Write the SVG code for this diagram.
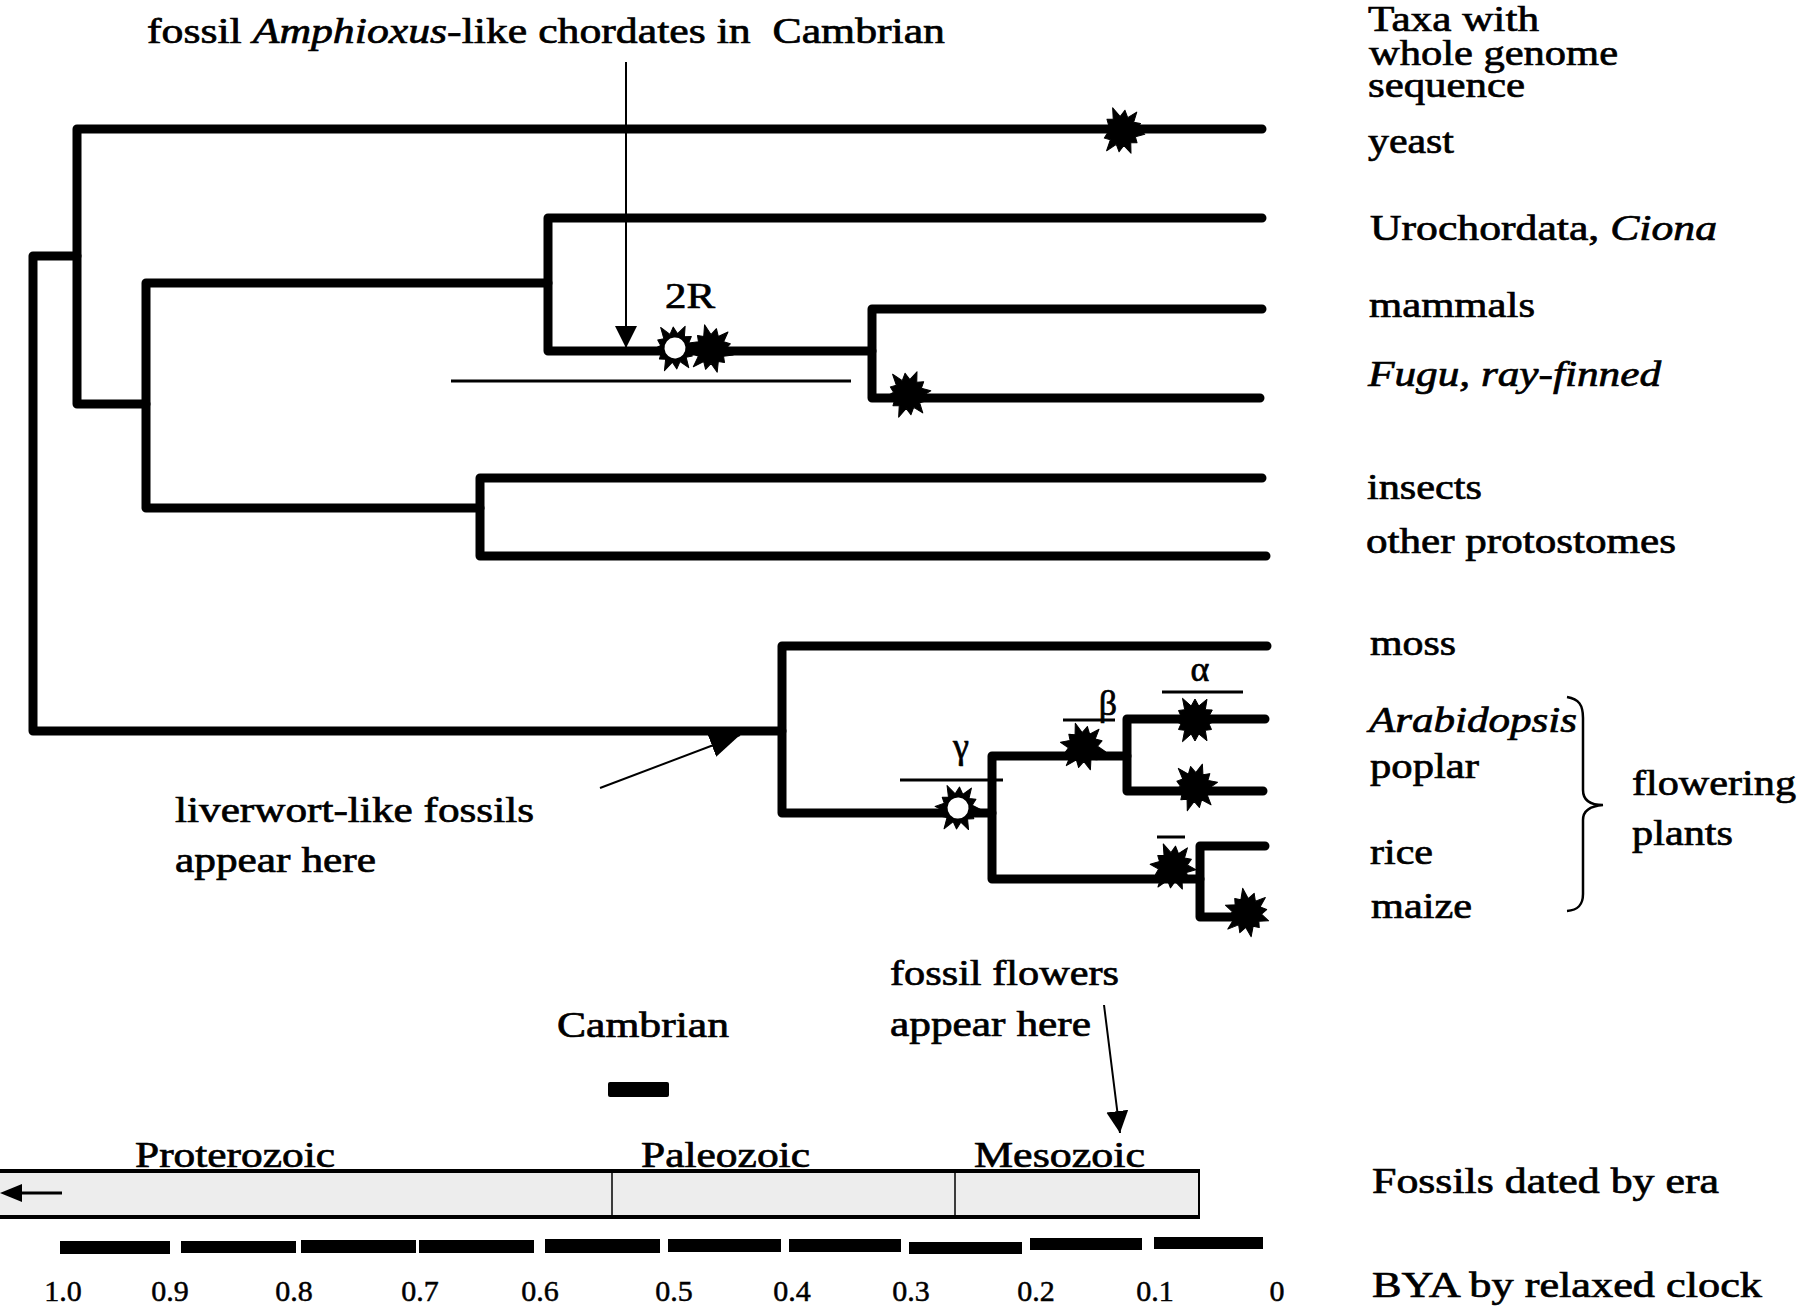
<svg xmlns="http://www.w3.org/2000/svg" xmlns:xlink="http://www.w3.org/1999/xlink" width="1800" height="1310" viewBox="0 0 1800 1310">
<style>
.br{fill:none;stroke:#000;stroke-width:9;stroke-linecap:round;stroke-linejoin:round}
.thin{fill:none;stroke:#000;stroke-width:2}
.bar{stroke:#000;stroke-width:3}
.t{font-family:"Liberation Serif","Times New Roman",serif;font-size:36px;fill:#000;stroke:#000;stroke-width:0.7px}
.it{font-style:italic}
.num{font-family:"Liberation Serif","Times New Roman",serif;font-size:30px;fill:#000;stroke:#000;stroke-width:0.5px;text-anchor:middle}
.dash{fill:#000}
</style>
<defs>
<polygon id="burst" points="23,0 14,3.8 16.5,9.5 10.3,10.3 12,20.8 3.8,14 0,21 -3.8,14 -12.5,21.7 -10.3,10.3 -16.5,9.5 -14,3.8 -23,0 -14,-3.8 -16.5,-9.5 -10.3,-10.3 -12.5,-21.7 -3.8,-14 0,-21 3.8,-14 12,-20.8 10.3,-10.3 17.3,-10 14,-3.8" fill="#000" stroke="#000" stroke-width="1" stroke-linejoin="round"/>
<g id="openburst"><use href="#burst"/><circle r="10.5" fill="#fff"/></g>
<marker id="ah" viewBox="0 0 22 22" refX="22" refY="11" markerWidth="22" markerHeight="22" markerUnits="userSpaceOnUse" orient="auto"><path d="M0,0 L22,11 L0,22 z" fill="#000"/></marker>
<marker id="ahl" viewBox="0 0 30 24" refX="30" refY="12" markerWidth="30" markerHeight="24" markerUnits="userSpaceOnUse" orient="auto"><path d="M0,0 L30,12 L0,24 z" fill="#000"/></marker>
</defs>
<rect width="1800" height="1310" fill="#fff"/>

<g id="connectors">
<path class="br" d="M77,256 H33 V731 H782"/>
<path class="br" d="M1262,129 H77 V404 H146"/>
<path class="br" d="M548,283 H146 V508 H480"/>
<path class="br" d="M1262,218 H548 V351 H872"/>
<path class="br" d="M1262,309 H872 V398 H1260"/>
<path class="br" d="M1262,478 H480 V556 H1266"/>
<path class="br" d="M1267,646 H782 V813 H992"/>
<path class="br" d="M1127,756 H992 V879 H1200"/>
<path class="br" d="M1265,719 H1127 V791 H1263"/>
<path class="br" d="M1265,846 H1200 V917 H1247"/>
</g>

<g id="duplication-events">
<use href="#burst" transform="translate(1122 131) rotate(8)"/>
<use href="#openburst" transform="translate(675 348) rotate(-5)"/>
<use href="#burst" transform="translate(711 349) rotate(15)"/>
<use href="#burst" transform="translate(908 394) rotate(-8)"/>
<use href="#openburst" transform="translate(958 808) rotate(4)"/>
<use href="#burst" transform="translate(1083 747) rotate(12)"/>
<use href="#burst" transform="translate(1195 720)"/>
<use href="#burst" transform="translate(1195 787) rotate(-12)"/>
<use href="#burst" transform="translate(1173 867) rotate(7)"/>
<use href="#burst" transform="translate(1247 913) rotate(20)"/>
</g>

<g id="wgd-ranges">
<line class="bar" x1="451" y1="381" x2="851" y2="381"/>
<line class="bar" x1="900" y1="780" x2="1003" y2="780"/>
<line class="bar" x1="1063" y1="720" x2="1115" y2="720"/>
<line class="bar" x1="1162" y1="692" x2="1243" y2="692"/>
<line class="bar" x1="1157" y1="837" x2="1185" y2="837"/>
<text class="t" x="665" y="308" font-size="40" textLength="50" lengthAdjust="spacingAndGlyphs">2R</text>
<text class="t" x="961" y="758" font-size="40" text-anchor="middle">γ</text>
<text class="t" x="1108" y="715" font-size="38" text-anchor="middle">β</text>
<text class="t" x="1200" y="681" font-size="40" text-anchor="middle">α</text>
</g>

<g id="annotation-amphioxus">
<text class="t" x="147" y="43" textLength="798" lengthAdjust="spacingAndGlyphs" xml:space="preserve">fossil <tspan class="it">Amphioxus</tspan>-like chordates in  Cambrian</text>
<line class="thin" x1="626" y1="62" x2="626" y2="348" marker-end="url(#ah)"/>
</g>

<g id="annotation-liverwort">
<line class="thin" x1="600" y1="788" x2="740" y2="735" marker-end="url(#ahl)"/>
<text class="t" x="175" y="822" textLength="359" lengthAdjust="spacingAndGlyphs">liverwort-like fossils</text>
<text class="t" x="175" y="872" textLength="201" lengthAdjust="spacingAndGlyphs">appear here</text>
</g>

<g id="header">
<text class="t" x="1368" y="31" font-size="35" textLength="171" lengthAdjust="spacingAndGlyphs">Taxa with</text>
<text class="t" x="1369" y="65" font-size="35" textLength="249" lengthAdjust="spacingAndGlyphs">whole genome</text>
<text class="t" x="1368" y="97" font-size="35" textLength="157" lengthAdjust="spacingAndGlyphs">sequence</text>
</g>
<g id="taxon-yeast"><text class="t" x="1368" y="153" textLength="86" lengthAdjust="spacingAndGlyphs">yeast</text></g>
<g id="taxon-ciona"><text class="t" x="1370" y="240" textLength="347" lengthAdjust="spacingAndGlyphs">Urochordata, <tspan class="it">Ciona</tspan></text></g>
<g id="taxon-mammals"><text class="t" x="1369" y="317" textLength="166" lengthAdjust="spacingAndGlyphs">mammals</text></g>
<g id="taxon-fugu"><text class="t it" x="1368" y="386" textLength="293" lengthAdjust="spacingAndGlyphs">Fugu, ray-finned</text></g>
<g id="taxon-insects"><text class="t" x="1367" y="499" textLength="115" lengthAdjust="spacingAndGlyphs">insects</text></g>
<g id="taxon-protostomes"><text class="t" x="1366" y="553" textLength="310" lengthAdjust="spacingAndGlyphs">other protostomes</text></g>
<g id="taxon-moss"><text class="t" x="1370" y="655" textLength="86" lengthAdjust="spacingAndGlyphs">moss</text></g>
<g id="taxon-arabidopsis"><text class="t it" x="1369" y="732" textLength="208" lengthAdjust="spacingAndGlyphs">Arabidopsis</text></g>
<g id="taxon-poplar"><text class="t" x="1370" y="778" textLength="109" lengthAdjust="spacingAndGlyphs">poplar</text></g>
<g id="taxon-rice"><text class="t" x="1370" y="864" textLength="63" lengthAdjust="spacingAndGlyphs">rice</text></g>
<g id="taxon-maize"><text class="t" x="1371" y="918" textLength="101" lengthAdjust="spacingAndGlyphs">maize</text></g>

<g id="flowering-plants">
<path d="M1567,697 C1579,699 1583,705 1583,718 L1583,790 C1583,800 1590,805 1603,805 C1590,806 1583,811 1583,820 L1583,894 C1583,905 1578,910 1567,911" fill="none" stroke="#000" stroke-width="2.5"/>
<text class="t" x="1632" y="795" textLength="164" lengthAdjust="spacingAndGlyphs">flowering</text>
<text class="t" x="1632" y="845" textLength="101" lengthAdjust="spacingAndGlyphs">plants</text>
</g>

<g id="cambrian">
<text class="t" x="557" y="1037" textLength="172" lengthAdjust="spacingAndGlyphs">Cambrian</text>
<rect x="608" y="1082" width="61" height="15" rx="2" fill="#000"/>
</g>

<g id="fossil-flowers">
<text class="t" x="890" y="985" textLength="229" lengthAdjust="spacingAndGlyphs">fossil flowers</text>
<text class="t" x="890" y="1036" textLength="201" lengthAdjust="spacingAndGlyphs">appear here</text>
<line class="thin" x1="1104" y1="1005" x2="1120" y2="1133" marker-end="url(#ah)"/>
</g>

<g id="era-bar">
<rect x="0" y="1171" width="1200" height="46" fill="#ededed"/>
<line x1="0" y1="1171" x2="1200" y2="1171" stroke="#000" stroke-width="4"/>
<line x1="0" y1="1217" x2="1200" y2="1217" stroke="#000" stroke-width="4"/>
<line x1="1199" y1="1171" x2="1199" y2="1217" stroke="#000" stroke-width="2"/>
<line x1="612" y1="1173" x2="612" y2="1215" stroke="#000" stroke-width="1.5"/>
<line x1="955" y1="1173" x2="955" y2="1215" stroke="#000" stroke-width="1.5"/>
<line x1="14" y1="1193" x2="62" y2="1193" stroke="#000" stroke-width="3"/>
<path d="M0,1193 L22,1184 L22,1202 z" fill="#000"/>
<text class="t" x="135" y="1167" textLength="200" lengthAdjust="spacingAndGlyphs">Proterozoic</text>
<text class="t" x="641" y="1167" textLength="169" lengthAdjust="spacingAndGlyphs">Paleozoic</text>
<text class="t" x="974" y="1167" textLength="171" lengthAdjust="spacingAndGlyphs">Mesozoic</text>
<text class="t" x="1372" y="1193" font-size="38" textLength="347" lengthAdjust="spacingAndGlyphs">Fossils dated by era</text>
</g>

<g id="clock-scale">
<rect class="dash" x="60" y="1241" width="110" height="13"/>
<rect class="dash" x="181" y="1241" width="115" height="12"/>
<rect class="dash" x="301" y="1240" width="115" height="13"/>
<rect class="dash" x="419" y="1240" width="115" height="13"/>
<rect class="dash" x="545" y="1239" width="115" height="14"/>
<rect class="dash" x="668" y="1239" width="113" height="13"/>
<rect class="dash" x="789" y="1239" width="112" height="13"/>
<rect class="dash" x="909" y="1242" width="113" height="12"/>
<rect class="dash" x="1030" y="1238" width="112" height="12"/>
<rect class="dash" x="1154" y="1237" width="109" height="12"/>
<text class="num" x="63" y="1301">1.0</text>
<text class="num" x="170" y="1301">0.9</text>
<text class="num" x="294" y="1301">0.8</text>
<text class="num" x="420" y="1301">0.7</text>
<text class="num" x="540" y="1301">0.6</text>
<text class="num" x="674" y="1301">0.5</text>
<text class="num" x="792" y="1301">0.4</text>
<text class="num" x="911" y="1301">0.3</text>
<text class="num" x="1036" y="1301">0.2</text>
<text class="num" x="1155" y="1301">0.1</text>
<text class="num" x="1277" y="1301">0</text>
<text class="t" x="1372" y="1297" font-size="40" textLength="390" lengthAdjust="spacingAndGlyphs">BYA by relaxed clock</text>
</g>
</svg>
